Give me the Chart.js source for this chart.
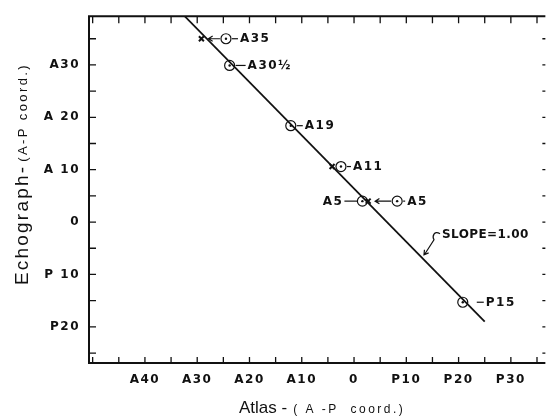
<!DOCTYPE html>
<html>
<head>
<meta charset="utf-8">
<script src="https://cdn.jsdelivr.net/npm/chart.js@4.4.1/dist/chart.umd.min.js"></script>
<style>
  html, body { margin: 0; padding: 0; background: #fff; }
</style>
</head>
<body>
<canvas id="echoChart" width="547" height="420"></canvas>
<script>
// echograph readings (x = atlas, y = echograph; A is negative x, positive y)
const echoLabels = ['A35', 'A30½', 'A19', 'A11', 'A5', 'A5', 'P15'];
const echoX = [-24.5, -23.8, -12.1, -2.5, 1.6, 8.25, 20.8];
const echoY = [35.0, 29.9, 18.4, 10.6, 4.0, 4.0, -15.3];

// atlas positions marked with an x
const atlasX = [-29.2, -4.2, 2.7];
const atlasY = [35.0, 10.6, 4.0];

// arrows from an echo circle to an atlas x: [echo index, atlas index]
const arrowPairs = [[0, 0], [5, 2]];

// fitted line
const lineX = [-32.4, 25.0];
const lineY = [39.3, -19.0];
const slopeText = 'SLOPE=1.00';
const slopeAtX = 13;

// axis ticks
const xTickVals = [-40, -30, -20, -10, 0, 10, 20, 30];
const xTickText = ['A40', 'A30', 'A20', 'A10', '0', 'P10', 'P20', 'P30'];
const yTickVals = [30, 20, 10, 0, -10, -20];
const yTickText = ['A30', 'A 20', 'A 10', '0', 'P 10', 'P20'];

const INK = '#111';

function arrowHead(ctx, tx, ty, ang, len) {
  ctx.moveTo(tx + len * Math.cos(ang + Math.PI - 0.55), ty + len * Math.sin(ang + Math.PI - 0.55));
  ctx.lineTo(tx, ty);
  ctx.lineTo(tx + len * Math.cos(ang + Math.PI + 0.55), ty + len * Math.sin(ang + Math.PI + 0.55));
}

// draws frame, inward ticks, labels, arrows and axis titles
const inkPlugin = {
  id: 'ink',
  beforeDraw(chart) {
    chart.ctx.letterSpacing = '1.5px';
  },
  beforeDatasetsDraw(chart) {
    chart.ctx.letterSpacing = '0px';
  },
  afterDraw(chart) {
    const { ctx, chartArea: a, scales: { x, y } } = chart;
    ctx.save();
    ctx.strokeStyle = INK;
    ctx.fillStyle = INK;
    ctx.lineCap = 'butt';

    // frame (left, top, bottom)
    ctx.lineWidth = 2;
    ctx.beginPath();
    ctx.moveTo(a.right, a.top);
    ctx.lineTo(a.left, a.top);
    ctx.lineTo(a.left, a.bottom);
    ctx.lineTo(a.right, a.bottom);
    ctx.stroke();

    // ticks pointing inward
    ctx.lineWidth = 1.3;
    ctx.beginPath();
    x.ticks.forEach(t => {
      const px = x.getPixelForValue(t.value);
      ctx.moveTo(px, a.bottom); ctx.lineTo(px, a.bottom - 6);
      ctx.moveTo(px, a.top); ctx.lineTo(px, a.top + 7);
    });
    y.ticks.forEach(t => {
      const py = y.getPixelForValue(t.value);
      ctx.moveTo(a.left, py); ctx.lineTo(a.left + 7, py);
      ctx.moveTo(a.right, py); ctx.lineTo(a.right - 3, py);
    });
    ctx.stroke();

    // point labels with leaders
    const leaders = [[6, 12], [6, 16], [6, 12], [6, 10], [-5, -18], [6, 8], [14, 21]];
    ctx.font = 'bold 12px "DejaVu Sans"';
    ctx.letterSpacing = '1.5px';
    ctx.textBaseline = 'middle';
    ctx.lineWidth = 1.2;
    echoLabels.forEach((lab, i) => {
      const cx = x.getPixelForValue(echoX[i]);
      const cy = y.getPixelForValue(echoY[i]);
      const [l0, l1] = leaders[i];
      ctx.beginPath();
      ctx.moveTo(cx + l0, cy);
      ctx.lineTo(cx + l1, cy);
      ctx.stroke();
      if (l1 > 0) {
        ctx.textAlign = 'left';
        ctx.fillText(lab, cx + l1 + 2, cy + 0.5);
      } else {
        ctx.textAlign = 'right';
        ctx.fillText(lab, cx + l1 - 1, cy + 0.5);
      }
    });

    // arrows from circle to atlas mark
    arrowPairs.forEach(([i, j]) => {
      const cx = x.getPixelForValue(echoX[i]);
      const cy = y.getPixelForValue(echoY[i]);
      const ax = x.getPixelForValue(atlasX[j]);
      const tip = ax + 7;
      ctx.beginPath();
      ctx.moveTo(cx - 6, cy);
      ctx.lineTo(tip, cy);
      arrowHead(ctx, tip, cy, Math.PI, 5);
      ctx.stroke();
    });

    // slope note
    const f = (slopeAtX - lineX[0]) / (lineX[1] - lineX[0]);
    const tx = x.getPixelForValue(slopeAtX) + 1;
    const ty = y.getPixelForValue(lineY[0] + f * (lineY[1] - lineY[0])) - 2;
    ctx.beginPath();
    ctx.moveTo(tx + 17, ty - 22);
    ctx.bezierCurveTo(tx + 11, ty - 26, tx + 9, ty - 19, tx + 11, ty - 16);
    ctx.lineTo(tx + 2, ty - 2);
    arrowHead(ctx, tx + 1, ty - 1, Math.atan2(1, -0.75), 5);
    ctx.stroke();
    ctx.textAlign = 'left';
    ctx.letterSpacing = '0.4px';
    ctx.fillText(slopeText, tx + 19, ty - 21);

    // x title
    const bigX = 'Atlas -';
    const smallX = '( A -P  coord.)';
    ctx.textBaseline = 'alphabetic';
    ctx.font = '17px "Liberation Sans"';
    ctx.letterSpacing = '0px';
    const wBig = ctx.measureText(bigX).width;
    ctx.font = '12px "Liberation Sans"';
    ctx.letterSpacing = '2.5px';
    const wSmall = ctx.measureText(smallX).width;
    const sx = (a.left + a.right) / 2 + 5 - (wBig + 6 + wSmall) / 2;
    ctx.font = '17px "Liberation Sans"';
    ctx.letterSpacing = '0px';
    ctx.fillText(bigX, sx, a.bottom + 50);
    ctx.font = '12px "Liberation Sans"';
    ctx.letterSpacing = '2.5px';
    ctx.fillText(smallX, sx + wBig + 6, a.bottom + 50);

    // y title (reads bottom to top)
    ctx.translate(28, a.bottom - 78);
    ctx.rotate(-Math.PI / 2);
    ctx.font = '19px "Liberation Sans"';
    ctx.letterSpacing = '2.2px';
    ctx.fillText('Echograph-', 0, 0);
    const wE = ctx.measureText('Echograph-').width;
    ctx.font = '13px "Liberation Sans"';
    ctx.letterSpacing = '2.4px';
    ctx.fillText('(A-P coord.)', wE + 3, -1);
    ctx.restore();
  }
};

const ctx = document.getElementById('echoChart').getContext('2d');

new Chart(ctx, {
  type: 'scatter',
  data: {
    datasets: [
      {
        // fitted line
        data: lineX.map((v, i) => ({ x: v, y: lineY[i] })),
        showLine: true,
        borderColor: INK,
        borderWidth: 1.8,
        pointRadius: 0
      },
      {
        // echograph circles
        data: echoX.map((v, i) => ({ x: v, y: echoY[i] })),
        pointStyle: 'circle',
        pointRadius: 5,
        borderWidth: 1.2,
        borderColor: INK,
        backgroundColor: 'rgba(0,0,0,0)'
      },
      {
        // centre dots
        data: echoX.map((v, i) => ({ x: v, y: echoY[i] })),
        pointStyle: 'circle',
        pointRadius: 1.2,
        borderWidth: 0,
        backgroundColor: INK
      },
      {
        // atlas marks
        data: atlasX.map((v, i) => ({ x: v, y: atlasY[i] })),
        pointStyle: 'crossRot',
        pointRadius: 3.5,
        borderWidth: 2,
        borderColor: INK
      }
    ]
  },
  options: {
    responsive: false,
    animation: false,
    layout: { autoPadding: false, padding: { top: 13, left: 0, right: 0, bottom: 0 } },
    scales: {
      x: {
        type: 'linear',
        min: -50.7,
        max: 36.6,
        grid: { display: false, drawTicks: false },
        border: { display: false },
        afterBuildTicks: s => {
          const t = [];
          for (let v = -50; v <= 35; v += 5) t.push({ value: v });
          s.ticks = t;
        },
        afterFit: s => { s.height = 57; },
        ticks: {
          autoSkip: false,
          maxRotation: 0,
          padding: 10,
          color: INK,
          font: { family: 'DejaVu Sans', size: 12, weight: 'bold' },
          callback: v => {
            const i = xTickVals.indexOf(v);
            return i >= 0 ? xTickText[i] : '';
          }
        }
      },
      y: {
        type: 'linear',
        min: -26.9,
        max: 39.3,
        grid: { display: false, drawTicks: false },
        border: { display: false },
        afterBuildTicks: s => {
          const t = [];
          for (let v = -25; v <= 35; v += 5) t.push({ value: v });
          s.ticks = t;
        },
        afterFit: s => { s.width = 89; },
        ticks: {
          autoSkip: false,
          padding: 9,
          color: INK,
          font: { family: 'DejaVu Sans', size: 12, weight: 'bold' },
          callback: v => {
            const i = yTickVals.indexOf(v);
            return i >= 0 ? yTickText[i] : '';
          }
        }
      }
    },
    plugins: {
      legend: { display: false },
      tooltip: { enabled: false },
      title: { display: false }
    }
  },
  plugins: [inkPlugin]
});
</script>
</body>
</html>
